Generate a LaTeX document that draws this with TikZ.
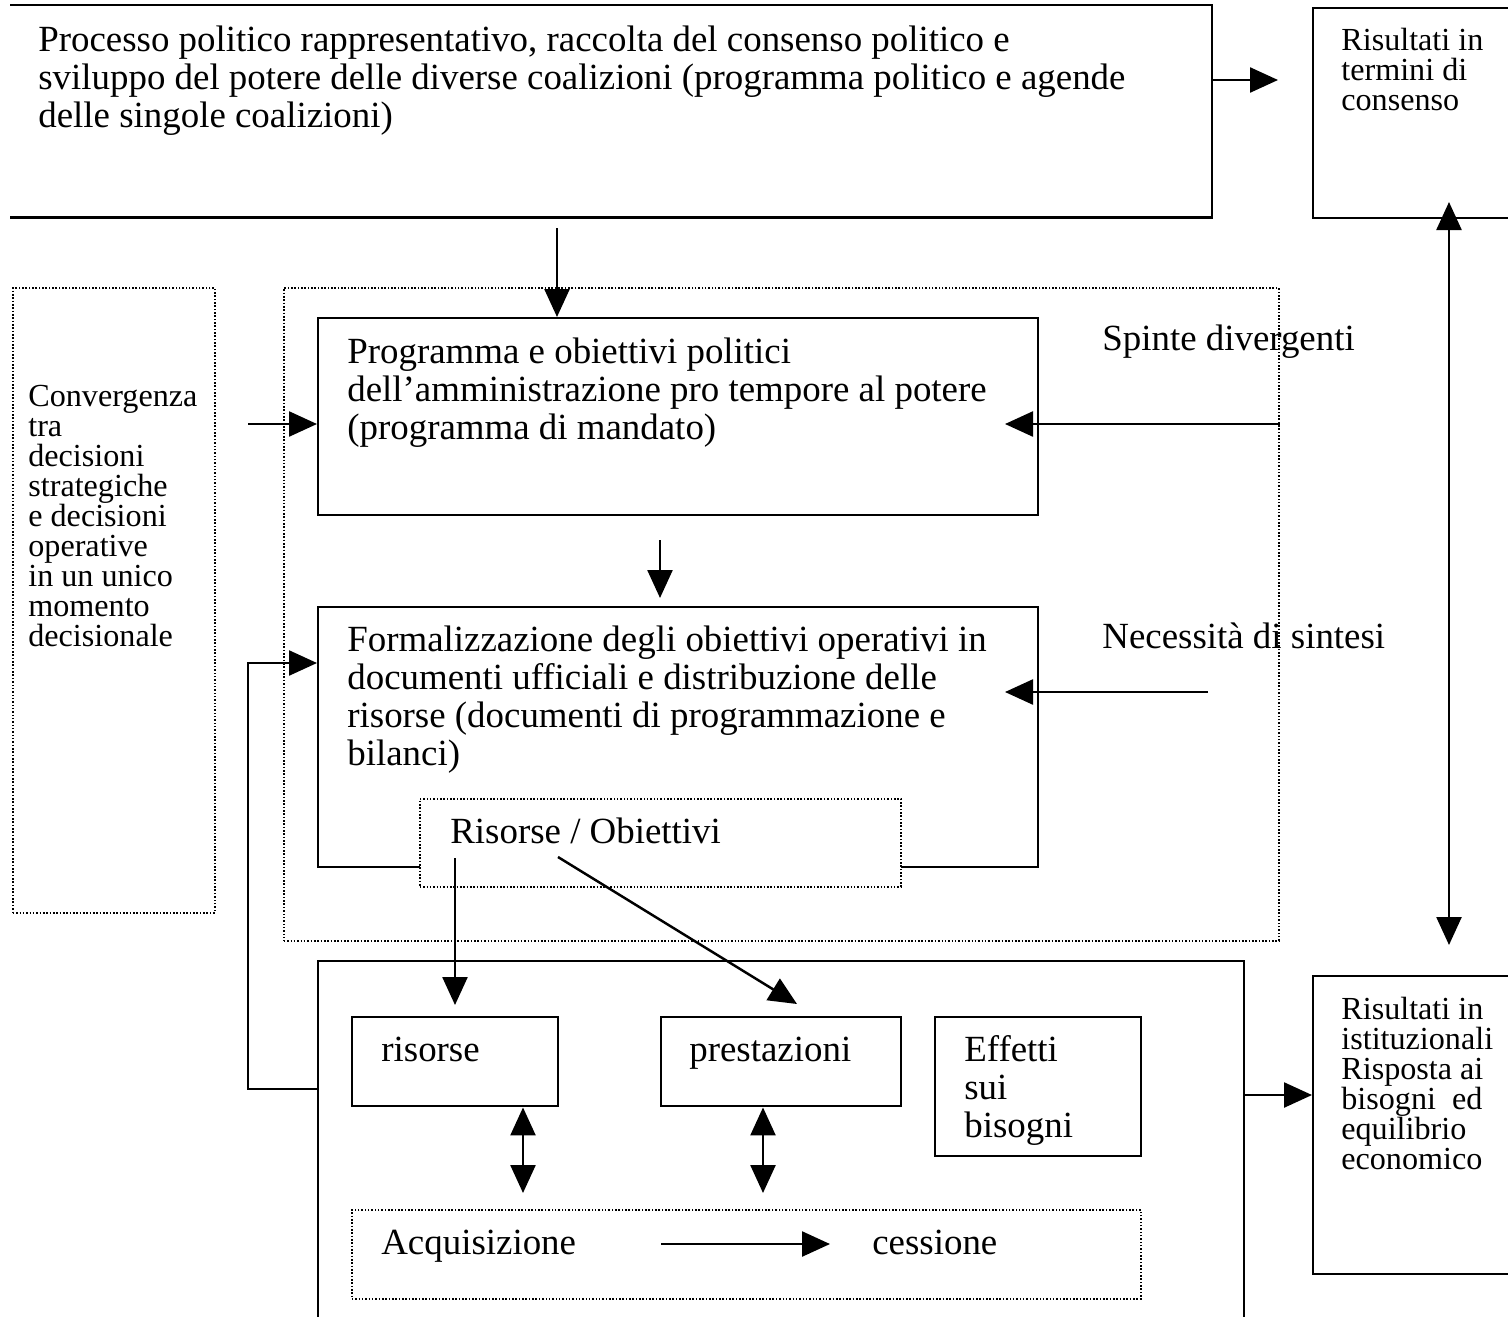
\documentclass[tikz,border=0pt]{standalone}
\usepackage{fontspec}
\setmainfont{Liberation Serif}
\usetikzlibrary{arrows.meta}
\usetikzlibrary{positioning}
\usetikzlibrary{calc}
\newcommand{\bigtxt}{\fontsize{21pt}{21.7pt}\selectfont}
\newcommand{\smalltxt}{\fontsize{18.3pt}{17.1pt}\selectfont}
\newcommand{\upb}{\rule{0pt}{15pt}}
\newcommand{\ups}{\rule{0pt}{13pt}}
\tikzset{box/.style={draw,line width=1.4pt,inner sep=0pt,anchor=north west},
  dotbox/.style={draw,line width=1pt,dash pattern=on 0.9pt off 1pt,inner sep=0pt,anchor=north west},
  txt/.style={inner sep=0pt,anchor=north west,align=left,font=\bigtxt},
  stxt/.style={inner sep=0pt,anchor=north west,align=left,font=\smalltxt},
  arr/.style={line width=1.4pt,-{Triangle[length=0.56cm,width=0.5cm]}},
  dblarr/.style={line width=1.4pt,{Triangle[length=0.56cm,width=0.5cm]}-{Triangle[length=0.56cm,width=0.5cm]}}}
\begin{document}
\begin{tikzpicture}[x=0.02cm,y=-0.02cm]
%[scale=0.5, every node/.style={scale=0.5}]
\useasboundingbox (0,0) rectangle (1508,1316);
\clip (0,0) rectangle (1508,1316);

\node (top) at (10,5) [box,draw=none,minimum width=24cm,minimum height=4.2cm] {};
\draw[line width=1.4pt] (top.north west) -- (top.north east) -- (top.south east) -- (top.south west);
\node (res1) at (1312,7) [box,minimum width=6cm,minimum height=4.2cm] {};
\node (conv) at (12,287) [dotbox,minimum width=4.04cm,minimum height=12.5cm] {};
\node (frame) at (283,287) [dotbox,minimum width=19.9cm,minimum height=13.06cm] {};
\node (prog) at (317,317) [box,minimum width=14.4cm,minimum height=3.94cm] {};
\node (form) at (317,606) [box,minimum width=14.4cm,minimum height=5.2cm] {};
\node (ro) at (419,798) [dotbox,fill=white,minimum width=9.62cm,minimum height=1.76cm] {};
\node (lower) at (317,960) [box,minimum width=18.52cm,minimum height=8cm] {};
\node (ris) at (351,1016) [box,minimum width=4.12cm,minimum height=1.78cm] {};
\node (pre) at (660,1016) [box,minimum width=4.8cm,minimum height=1.78cm] {};
\node (eff) at (934,1016) [box,minimum width=4.12cm,minimum height=2.78cm] {};
\node (acq) at (351,1209) [dotbox,minimum width=15.78cm,minimum height=1.78cm] {};
\node (res2) at (1312,975) [box,minimum width=6cm,minimum height=5.96cm] {};

\node (toptxt) at (38,25) [txt] {\upb Processo politico rappresentativo, raccolta del consenso politico e\\ sviluppo del potere delle diverse coalizioni (programma politico e agende\\ delle singole coalizioni)};
\node (res1txt) at (1341,27) [stxt] {\ups Risultati in\\ termini di\\ consenso};
\node (convtxt) at (28,383) [stxt] {\ups Convergenza\\ tra\\ decisioni\\ strategiche\\ e decisioni\\ operative\\ in un unico\\ momento\\ decisionale};
\node (progtxt) at (347,336.5) [txt] {\upb Programma e obiettivi politici\\ dell’amministrazione pro tempore al potere\\ (programma di mandato)};
\node (spinte) at (1102,324) [txt] {\upb Spinte divergenti};
\node (sintesi) at (1102,622) [txt] {\upb Necessità di sintesi};
\node (formtxt) at (347,624.5) [txt] {\upb Formalizzazione degli obiettivi operativi in\\ documenti ufficiali e distribuzione delle\\ risorse (documenti di programmazione e\\ bilanci)};
\node (rotxt) at (450,817) [txt] {\upb Risorse / Obiettivi};
\node (ristxt) at (381,1035) [txt] {\upb risorse};
\node (pretxt) at (689,1035) [txt] {\upb prestazioni};
\node (efftxt) at (964,1035) [txt] {\upb Effetti\\ sui\\ bisogni};
\node (acqtxt) at (381,1228) [txt] {\upb Acquisizione};
\node (cestxt) at (872,1228) [txt] {\upb cessione};
\node (res2txt) at (1341,996) [stxt] {\ups Risultati in\\ istituzionali\\ Risposta ai\\ bisogni\ \ ed\\ equilibrio\\ economico};

\coordinate (c1) at (1278,80);
\coordinate (c2) at (557,228);
\coordinate (c3) at (248,424);
\coordinate (c4) at (1005,424);
\coordinate (c5a) at (660,540);
\coordinate (c5b) at (660,598);
\coordinate (c6a) at (1208,692);
\coordinate (c6b) at (1005,692);
\coordinate (c7a) at (455,858);
\coordinate (c7b) at (455,1005);
\coordinate (c8a) at (558,857);
\coordinate (c8b) at (797,1004);
\coordinate (fb) at (248,1089);
\coordinate (c10a) at (1449,202);
\coordinate (c10b) at (1449,945);
\coordinate (c11) at (1243,1095);
\coordinate (c12) at (523,1193);
\coordinate (c13) at (763,1193);
\coordinate (c14a) at (661,1244);
\coordinate (c14b) at (830,1244);

\draw[arr] (top.east |- c1) -- (c1);
\draw[arr] (c2) -- (prog.north -| c2);
\draw[arr] (c3) -- (prog.west |- c3);
\draw[arr] (frame.east |- c4) -- (c4);
\draw[arr] (c5a) -- (c5b);
\draw[arr] (c6a) -- (c6b);
\draw[arr] (c7a) -- (c7b);
\draw[arr] (c8a) -- (c8b);
\draw[arr] (lower.west |- fb) -- (fb) |- ($(form.north west)+(0,57)$);
\draw[dblarr] (c10a) -- (c10b);
\draw[arr] (c11) -- (res2.west |- c11);
\draw[dblarr] (ris.south -| c12) -- (c12);
\draw[dblarr] (pre.south -| c13) -- (c13);
\draw[arr] (c14a) -- (c14b);
\end{tikzpicture}
\end{document}
